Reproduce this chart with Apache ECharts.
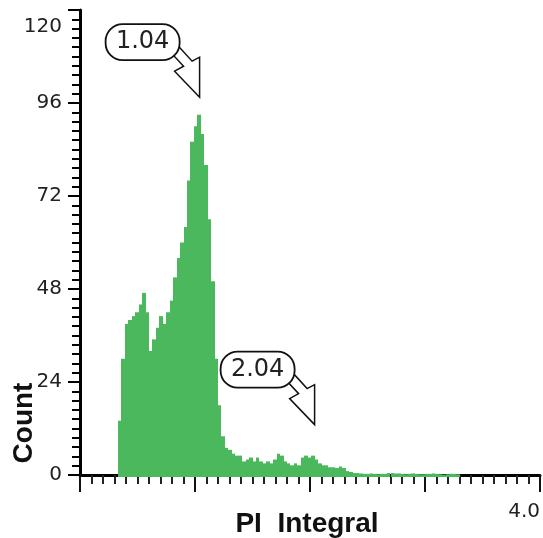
<!DOCTYPE html>
<html><head><meta charset="utf-8">
<script src="https://cdn.jsdelivr.net/npm/echarts@6/dist/echarts.min.js"></script>
<style>html,body{margin:0;padding:0;background:#fff}#c{width:543px;height:538px}</style>
</head><body><div id="c"></div>
<script>
// ---- data ----
const binStart = 0.33;
const binWidth = 0.03;
const counts = [
  14, 30, 39, 40, 41, 42, 44, 47, 42, 32,
  35, 38, 41, 39, 42, 45, 51, 56, 60, 64,
  76, 86, 90, 93, 88, 80, 66, 50, 30, 18,
  10, 7, 6.5, 5.5, 5, 5, 3.5, 4, 4.5, 3.5,
  4.5, 3.5, 3, 3.5, 3, 4, 5.5, 5, 3.5, 3,
  2.5, 3, 2.5, 4.5, 5, 4.5, 5, 4, 3, 2.5,
  2.5, 2, 2, 1.8, 2.2, 1.8, 1, 0.8, 0.5, 0.5,
  0.4, 0.3, 0.3, 0.4, 0.3, 0.2, 0.3, 0.3, 0.5, 0.5,
  0.4, 0.4, 0.3, 0.2, 0.3, 0.4, 0.3, 0.2, 0.2, 0.3,
  0.3, 0.4, 0.3, 0.2, 0.1, 0.2, 0.3, 0.3, 0.2
];
const yTickValues = [0, 24, 48, 72, 96, 120];
const xTickLabels = {4: '4.0'};
const peakLabels = ['1.04', '2.04'];
const peakX = [1.04, 2.04];
const peakY = [97.5, 13];
const xTitle = 'PI  Integral';
const yTitle = 'Count';

// ---- chart ----
const GREEN = '#4bb85d';
const chart = echarts.init(document.getElementById('c'), null, {renderer: 'canvas'});
const labelFont = {fontFamily: '"DejaVu Sans", sans-serif', fontSize: 20, color: '#222'};

const option = {
  animation: false,
  backgroundColor: '#fff',
  grid: {left: 80, right: 1, top: 10, bottom: 63},
  xAxis: {
    type: 'value', min: 0, max: 4, interval: 1,
    axisLine: {show: true, lineStyle: {color: '#000', width: 3}},
    axisTick: {show: true, length: 17, lineStyle: {color: '#111', width: 2}},
    minorTick: {show: true, splitNumber: 10, length: 9, lineStyle: {color: '#222', width: 2}},
    splitLine: {show: false}, minorSplitLine: {show: false},
    axisLabel: Object.assign({
      margin: 27,
      alignMaxLabel: 'right',
      formatter: v => xTickLabels[v] || ''
    }, labelFont)
  },
  yAxis: {
    type: 'value', min: 0, max: 120, interval: 24,
    axisLine: {show: true, lineStyle: {color: '#000', width: 3}},
    axisTick: {show: true, length: 12, lineStyle: {color: '#000', width: 2}},
    minorTick: {show: true, splitNumber: 10, length: 8, lineStyle: {color: '#000', width: 2}},
    splitLine: {show: false}, minorSplitLine: {show: false},
    axisLabel: Object.assign({
      margin: 18,
      formatter: v => (yTickValues.indexOf(v) < 0 ? '' : (v === 120 ? '{t|' + v + '}' : String(v))),
      rich: {t: {padding: [34, 0, 0, 0], fontFamily: '"DejaVu Sans", sans-serif', fontSize: 20, color: '#222'}}
    }, labelFont)
  },
  graphic: [
    {type: 'text', x: 24, y: 423, rotation: Math.PI / 2, z: 20,
     style: {text: yTitle, align: 'center', verticalAlign: 'middle', fontFamily: '"Liberation Sans", Arial, sans-serif', fontWeight: 'bold', fontSize: 28, fill: '#111'}},
    {type: 'text', x: 307, y: 524, z: 20,
     style: {text: xTitle, align: 'center', verticalAlign: 'middle', fontFamily: '"Liberation Sans", Arial, sans-serif', fontWeight: 'bold', fontSize: 28, fill: '#111'}}
  ],
  series: [
    {
      type: 'custom', z: 3,
      data: counts.map((c, i) => [binStart + i * binWidth, c]),
      encode: {x: 0, y: 1},
      renderItem(params, api) {
        const x0 = api.value(0), v = api.value(1);
        const p0 = api.coord([x0, v]);
        const p1 = api.coord([x0 + binWidth, 0]);
        const left = Math.round(p0[0]), right = Math.round(p1[0]);
        return {type: 'rect', shape: {x: left, y: p0[1], width: right - left, height: p1[1] - p0[1] + 2},
                style: {fill: GREEN}};
      }
    },
    {
      type: 'custom', z: 10,
      data: peakX.map((x, i) => [x, peakY[i], i]),
      encode: {x: 0, y: 1},
      renderItem(params, api) {
        const i = api.value(2);
        const t = api.coord([api.value(0), api.value(1)]);
        const tx = t[0], ty = t[1];
        const arrow = [[0,0],[-25,-26],[-16,-31],[-30,-46],[-22,-52],[-7.5,-36],[0,-40]]
          .map(p => [tx + p[0], ty + p[1]]);
        return {type: 'group', children: [
          {type: 'polygon', shape: {points: arrow}, style: {fill: '#fff', stroke: '#111', lineWidth: 1.5}},
          {type: 'rect', shape: {x: tx - 94, y: ty - 73, width: 74, height: 36, r: 17},
           style: {fill: '#fff', stroke: '#111', lineWidth: 1.8}},
          {type: 'text', style: {text: peakLabels[i], x: tx - 57, y: ty - 55, align: 'center', verticalAlign: 'middle',
            fontFamily: '"DejaVu Sans", sans-serif', fontSize: 24, fill: '#222'}}
        ]};
      }
    }
  ]
};
chart.setOption(option);
</script>
</body></html>
